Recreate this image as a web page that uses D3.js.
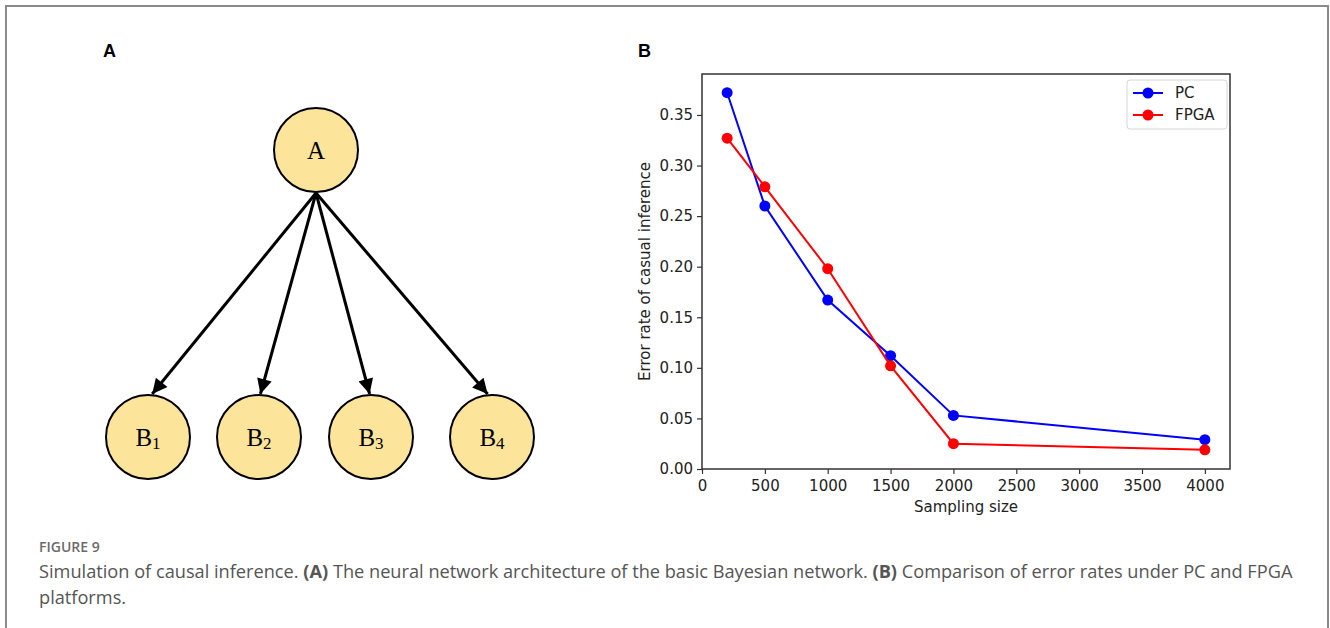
<!DOCTYPE html>
<html>
<head>
<meta charset="utf-8">
<script src="https://cdn.jsdelivr.net/npm/d3@7"></script>
<style>
  body { margin: 0; background: #fff; }
  svg { display: block; }
</style>
</head>
<body>
<svg id="fig"></svg>
<script>
// panel B data
var samplingSizes = [200, 500, 1000, 1500, 2000, 4000];
var pcErrors = [0.372, 0.260, 0.167, 0.112, 0.053, 0.029];
var fpgaErrors = [0.327, 0.279, 0.198, 0.102, 0.025, 0.019];
var xTicks = [0, 500, 1000, 1500, 2000, 2500, 3000, 3500, 4000];
var yTicks = [0, 0.05, 0.10, 0.15, 0.20, 0.25, 0.30, 0.35];

// panel A nodes
var parentNode = ["A"];
var childNodes = ["1", "2", "3", "4"];

var W = 1330, H = 628;
var svg = d3.select("#fig").attr("width", W).attr("height", H);

// frame
svg.append("path")
  .attr("d", "M6,628 V6 H1328 V628")
  .attr("fill", "none").attr("stroke", "#8a8a8a").attr("stroke-width", 2);

// panel labels
svg.append("text").attr("x", 103).attr("y", 57).text("A")
  .attr("font-family", "Liberation Sans, Arial, sans-serif").attr("font-weight", "bold").attr("font-size", 18);
svg.append("text").attr("x", 638).attr("y", 57).text("B")
  .attr("font-family", "Liberation Sans, Arial, sans-serif").attr("font-weight", "bold").attr("font-size", 18);

// ---- panel A: network diagram ----
var nodeFill = "#fce49b";
var r = 42;
var gA = svg.append("g");

// node centres of the children
var childX = { "1": 148, "2": 259, "3": 371, "4": 492 };
var ax = 316, ay = 150, by = 437;

svg.append("defs").append("marker")
  .attr("id", "arrow")
  .attr("viewBox", "0 0 10 10")
  .attr("refX", 10).attr("refY", 5)
  .attr("markerWidth", 5.5).attr("markerHeight", 5)
  .attr("markerUnits", "strokeWidth")
  .attr("orient", "auto")
  .append("path").attr("d", "M0,0 L10,5 L0,10 z").attr("fill", "#000");

// graphviz style: arrows end at the top of each child
function tipX(d) { return childX[d] + (ax - childX[d]) * 0.025; }

gA.selectAll("line.edge")
  .data(childNodes)
  .enter()
  .append("line")
  .attr("class", "edge")
  .attr("x1", ax).attr("y1", ay + r + 1)
  .attr("x2", tipX)
  .attr("y2", by - r - 1)
  .attr("stroke", "#000").attr("stroke-width", 3)
  .attr("marker-end", "url(#arrow)");

gA.append("circle").attr("cx", ax).attr("cy", ay).attr("r", r)
  .attr("fill", nodeFill).attr("stroke", "#000").attr("stroke-width", 2);
gA.append("text").attr("x", ax).attr("y", ay + 9).attr("text-anchor", "middle")
  .attr("font-family", "Liberation Serif, Times New Roman, serif").attr("font-size", 25)
  .text(parentNode[0]);

var kids = gA.selectAll("g.child").data(childNodes).enter().append("g").attr("class", "child");
kids.append("circle")
  .attr("cx", function(d) { return childX[d]; }).attr("cy", by).attr("r", r)
  .attr("fill", nodeFill).attr("stroke", "#000").attr("stroke-width", 2);
var kt = kids.append("text")
  .attr("x", function(d) { return childX[d]; }).attr("y", by + 9)
  .attr("text-anchor", "middle")
  .attr("font-family", "Liberation Serif, Times New Roman, serif").attr("font-size", 25);
kt.append("tspan").text("B");
kt.append("tspan").attr("font-size", 17).attr("dy", 3).text(function(d) { return d; });

// ---- panel B: line chart ----
var pLeft = 702, pRight = 1230, pTop = 74, pBottom = 469;
var x = d3.scaleLinear().domain([0, 4200]).range([pLeft, pRight]);
var y = d3.scaleLinear().domain([0, 0.3905]).range([pBottom, pTop]);

var gB = svg.append("g");
var font = "DejaVu Sans, sans-serif";

var xAxis = gB.append("g").attr("transform", "translate(0," + pBottom + ")")
  .call(d3.axisBottom(x).tickValues(xTicks).tickFormat(d3.format("d")).tickSize(5).tickPadding(6));
var yAxis = gB.append("g").attr("transform", "translate(" + pLeft + ",0)")
  .call(d3.axisLeft(y).tickValues(yTicks).tickFormat(d3.format(".2f")).tickSize(5).tickPadding(4));
[xAxis, yAxis].forEach(function(a) {
  a.select(".domain").remove();
  a.selectAll("line").attr("stroke", "#333").attr("stroke-width", 1.2);
  a.selectAll("text").attr("font-family", font).attr("font-size", 15).attr("fill", "#222");
});

gB.append("rect").attr("x", pLeft).attr("y", pTop).attr("width", pRight - pLeft).attr("height", pBottom - pTop)
  .attr("fill", "none").attr("stroke", "#333").attr("stroke-width", 1.5);

var series = [
  { name: "PC", color: "#0000ff", values: pcErrors },
  { name: "FPGA", color: "#ff0000", values: fpgaErrors }
];

var line = d3.line()
  .x(function(d, i) { return x(samplingSizes[i]); })
  .y(function(d) { return y(d); });

series.forEach(function(s) {
  gB.append("path").datum(s.values)
    .attr("d", line).attr("fill", "none")
    .attr("stroke", s.color).attr("stroke-width", 2);
  gB.selectAll(null).data(s.values).enter().append("circle")
    .attr("cx", function(d, i) { return x(samplingSizes[i]); })
    .attr("cy", function(d) { return y(d); })
    .attr("r", 5.5).attr("fill", s.color);
});

// legend
var lg = gB.append("g").attr("transform", "translate(1127,80)");
lg.append("rect").attr("width", 100).attr("height", 49).attr("rx", 3)
  .attr("fill", "#fff").attr("stroke", "#d6d6d6").attr("stroke-width", 1);
series.forEach(function(s, i) {
  var yy = 13 + i * 22;
  lg.append("line").attr("x1", 6).attr("x2", 36).attr("y1", yy).attr("y2", yy)
    .attr("stroke", s.color).attr("stroke-width", 2);
  lg.append("circle").attr("cx", 21).attr("cy", yy).attr("r", 5.5).attr("fill", s.color);
  lg.append("text").attr("x", 48).attr("y", yy + 5).text(s.name)
    .attr("font-family", font).attr("font-size", 15).attr("fill", "#222");
});

// axis titles
gB.append("text").attr("x", (pLeft + pRight) / 2).attr("y", 512).attr("text-anchor", "middle")
  .attr("font-family", font).attr("font-size", 15).attr("fill", "#222").text("Sampling size");
gB.append("text")
  .attr("transform", "translate(650," + ((pTop + pBottom) / 2) + ") rotate(-90)")
  .attr("text-anchor", "middle")
  .attr("font-family", font).attr("font-size", 15).attr("fill", "#222")
  .text("Error rate of casual inference");

// caption
var capFont = "Open Sans, Noto Sans, sans-serif";
svg.append("text").attr("x", 39).attr("y", 552).text("FIGURE 9")
  .attr("font-family", capFont).attr("font-size", 14).attr("font-weight", 600).attr("fill", "#6b6b6b");
var c1 = svg.append("text").attr("x", 39).attr("y", 578)
  .attr("font-family", capFont).attr("font-size", 18.2).attr("fill", "#555");
c1.append("tspan").text("Simulation of causal inference. ");
c1.append("tspan").attr("font-weight", "bold").text("(A)");
c1.append("tspan").text(" The neural network architecture of the basic Bayesian network. ");
c1.append("tspan").attr("font-weight", "bold").text("(B)");
c1.append("tspan").text(" Comparison of error rates under PC and FPGA");
svg.append("text").attr("x", 39).attr("y", 604).text("platforms.")
  .attr("font-family", capFont).attr("font-size", 18.2).attr("fill", "#555");
</script>
</body>
</html>
